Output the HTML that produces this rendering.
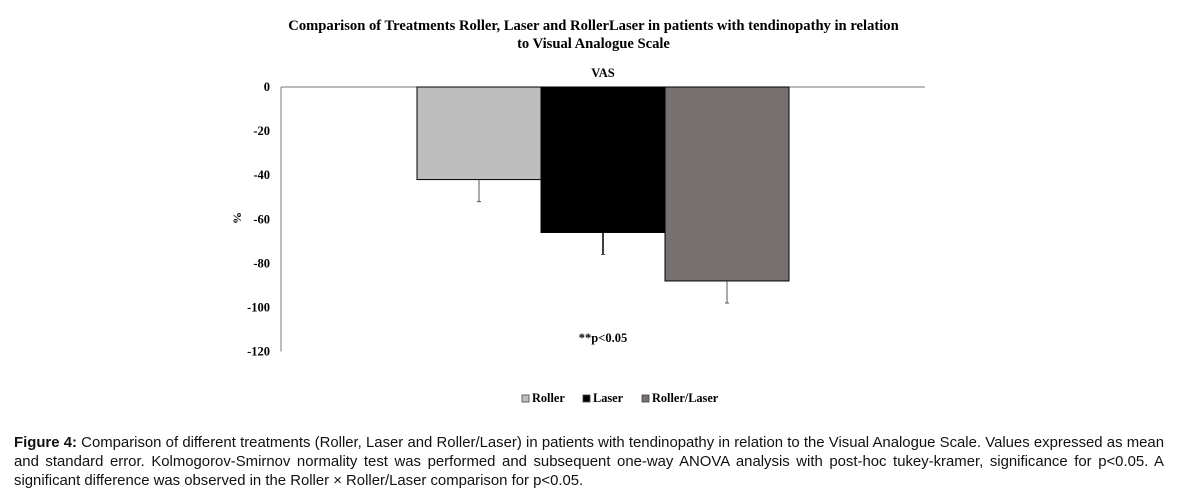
<!DOCTYPE html>
<html><head><meta charset="utf-8"><style>
body{margin:0;width:1187px;height:498px;background:#fff;position:relative;overflow:hidden;font-family:"Liberation Serif",serif}
.t{position:absolute;font-weight:bold}
#cap{position:absolute;left:14px;top:434px;width:1150px;font-family:"Liberation Sans",sans-serif;font-size:14.9px;line-height:19px;color:#111;text-align:justify;text-align-last:left}
</style></head><body>
<div class="t" style="left:0;width:1187px;top:17px;text-align:center;font-size:14.6px;line-height:18px">Comparison of Treatments Roller, Laser and RollerLaser in patients with tendinopathy in relation<br>to Visual Analogue Scale</div>
<svg id="chart" width="1187" height="430" style="position:absolute;left:0;top:0" font-family="Liberation Serif, serif" font-weight="bold"></svg>
<div id="cap"><b>Figure 4:</b> Comparison of different treatments (Roller, Laser and Roller/Laser) in patients with tendinopathy in relation to the Visual Analogue Scale. Values expressed as mean and standard error. Kolmogorov-Smirnov normality test was performed and subsequent one-way ANOVA analysis with post-hoc tukey-kramer, significance for p&lt;0.05. A significant difference was observed in the Roller × Roller/Laser comparison for p&lt;0.05.</div>
<script>
const categories=["Roller","Laser","Roller/Laser"];
const values=[-42,-66,-88];
const errors=[10,10,10];
const colors=["#bebebe","#000000","#767070"];
const ticks=[0,-20,-40,-60,-80,-100,-120];
const NS="http://www.w3.org/2000/svg";
const svg=document.getElementById("chart");
const y0=87,ppu=(351.5-87)/120,axisX=281,barX0=417,barW=124;
const y=v=>y0-v*ppu;
function mk(t,a,txt){const e=document.createElementNS(NS,t);for(const k in a)e.setAttribute(k,a[k]);if(txt!=null)e.textContent=txt;svg.appendChild(e);return e;}
let e;
e=mk("line",{x1:axisX,y1:y(0),x2:925,y2:y(0),stroke:"#777","stroke-width":1});


e=mk("line",{x1:axisX,y1:y(0),x2:axisX,y2:y(-120),stroke:"#777","stroke-width":1});


ticks.forEach(t=>{
 e=mk("text",{x:axisX-11,y:y(t)+4,"text-anchor":"end","font-size":12.5},String(t));
 
 
});
e=mk("text",{x:0,y:0,"font-size":12,transform:"translate(241,218) rotate(-90)","text-anchor":"middle"},"%");


e=mk("text",{x:603,y:77,"text-anchor":"middle","font-size":12.5},"VAS");


categories.forEach((c,i)=>{
 const x=barX0+i*barW;
 e=mk("rect",{x:x,y:y(0),width:barW,height:y(values[i])-y(0),fill:colors[i],stroke:"#000","stroke-width":1});
 
 
 const cx=x+barW/2;
 e=mk("line",{x1:cx,y1:y(values[i]),x2:cx,y2:y(values[i]-errors[i]),stroke:i==1?"#000":"#555","stroke-width":i==1?1.5:1});
 
 
 e=mk("line",{x1:cx-2,y1:y(values[i]-errors[i]),x2:cx+2,y2:y(values[i]-errors[i]),stroke:"#555","stroke-width":1});
 
 
});
e=mk("text",{x:603,y:342,"text-anchor":"middle","font-size":12.5},"**p<0.05");


const lx=[522,583,642];
categories.forEach((c,i)=>{
 e=mk("rect",{x:lx[i],y:395,width:7,height:7,fill:colors[i],stroke:"#444","stroke-width":0.8});
 
 
 e=mk("text",{x:lx[i]+10,y:402,"font-size":12.3},c);
 
 
});
</script>
</body></html>
